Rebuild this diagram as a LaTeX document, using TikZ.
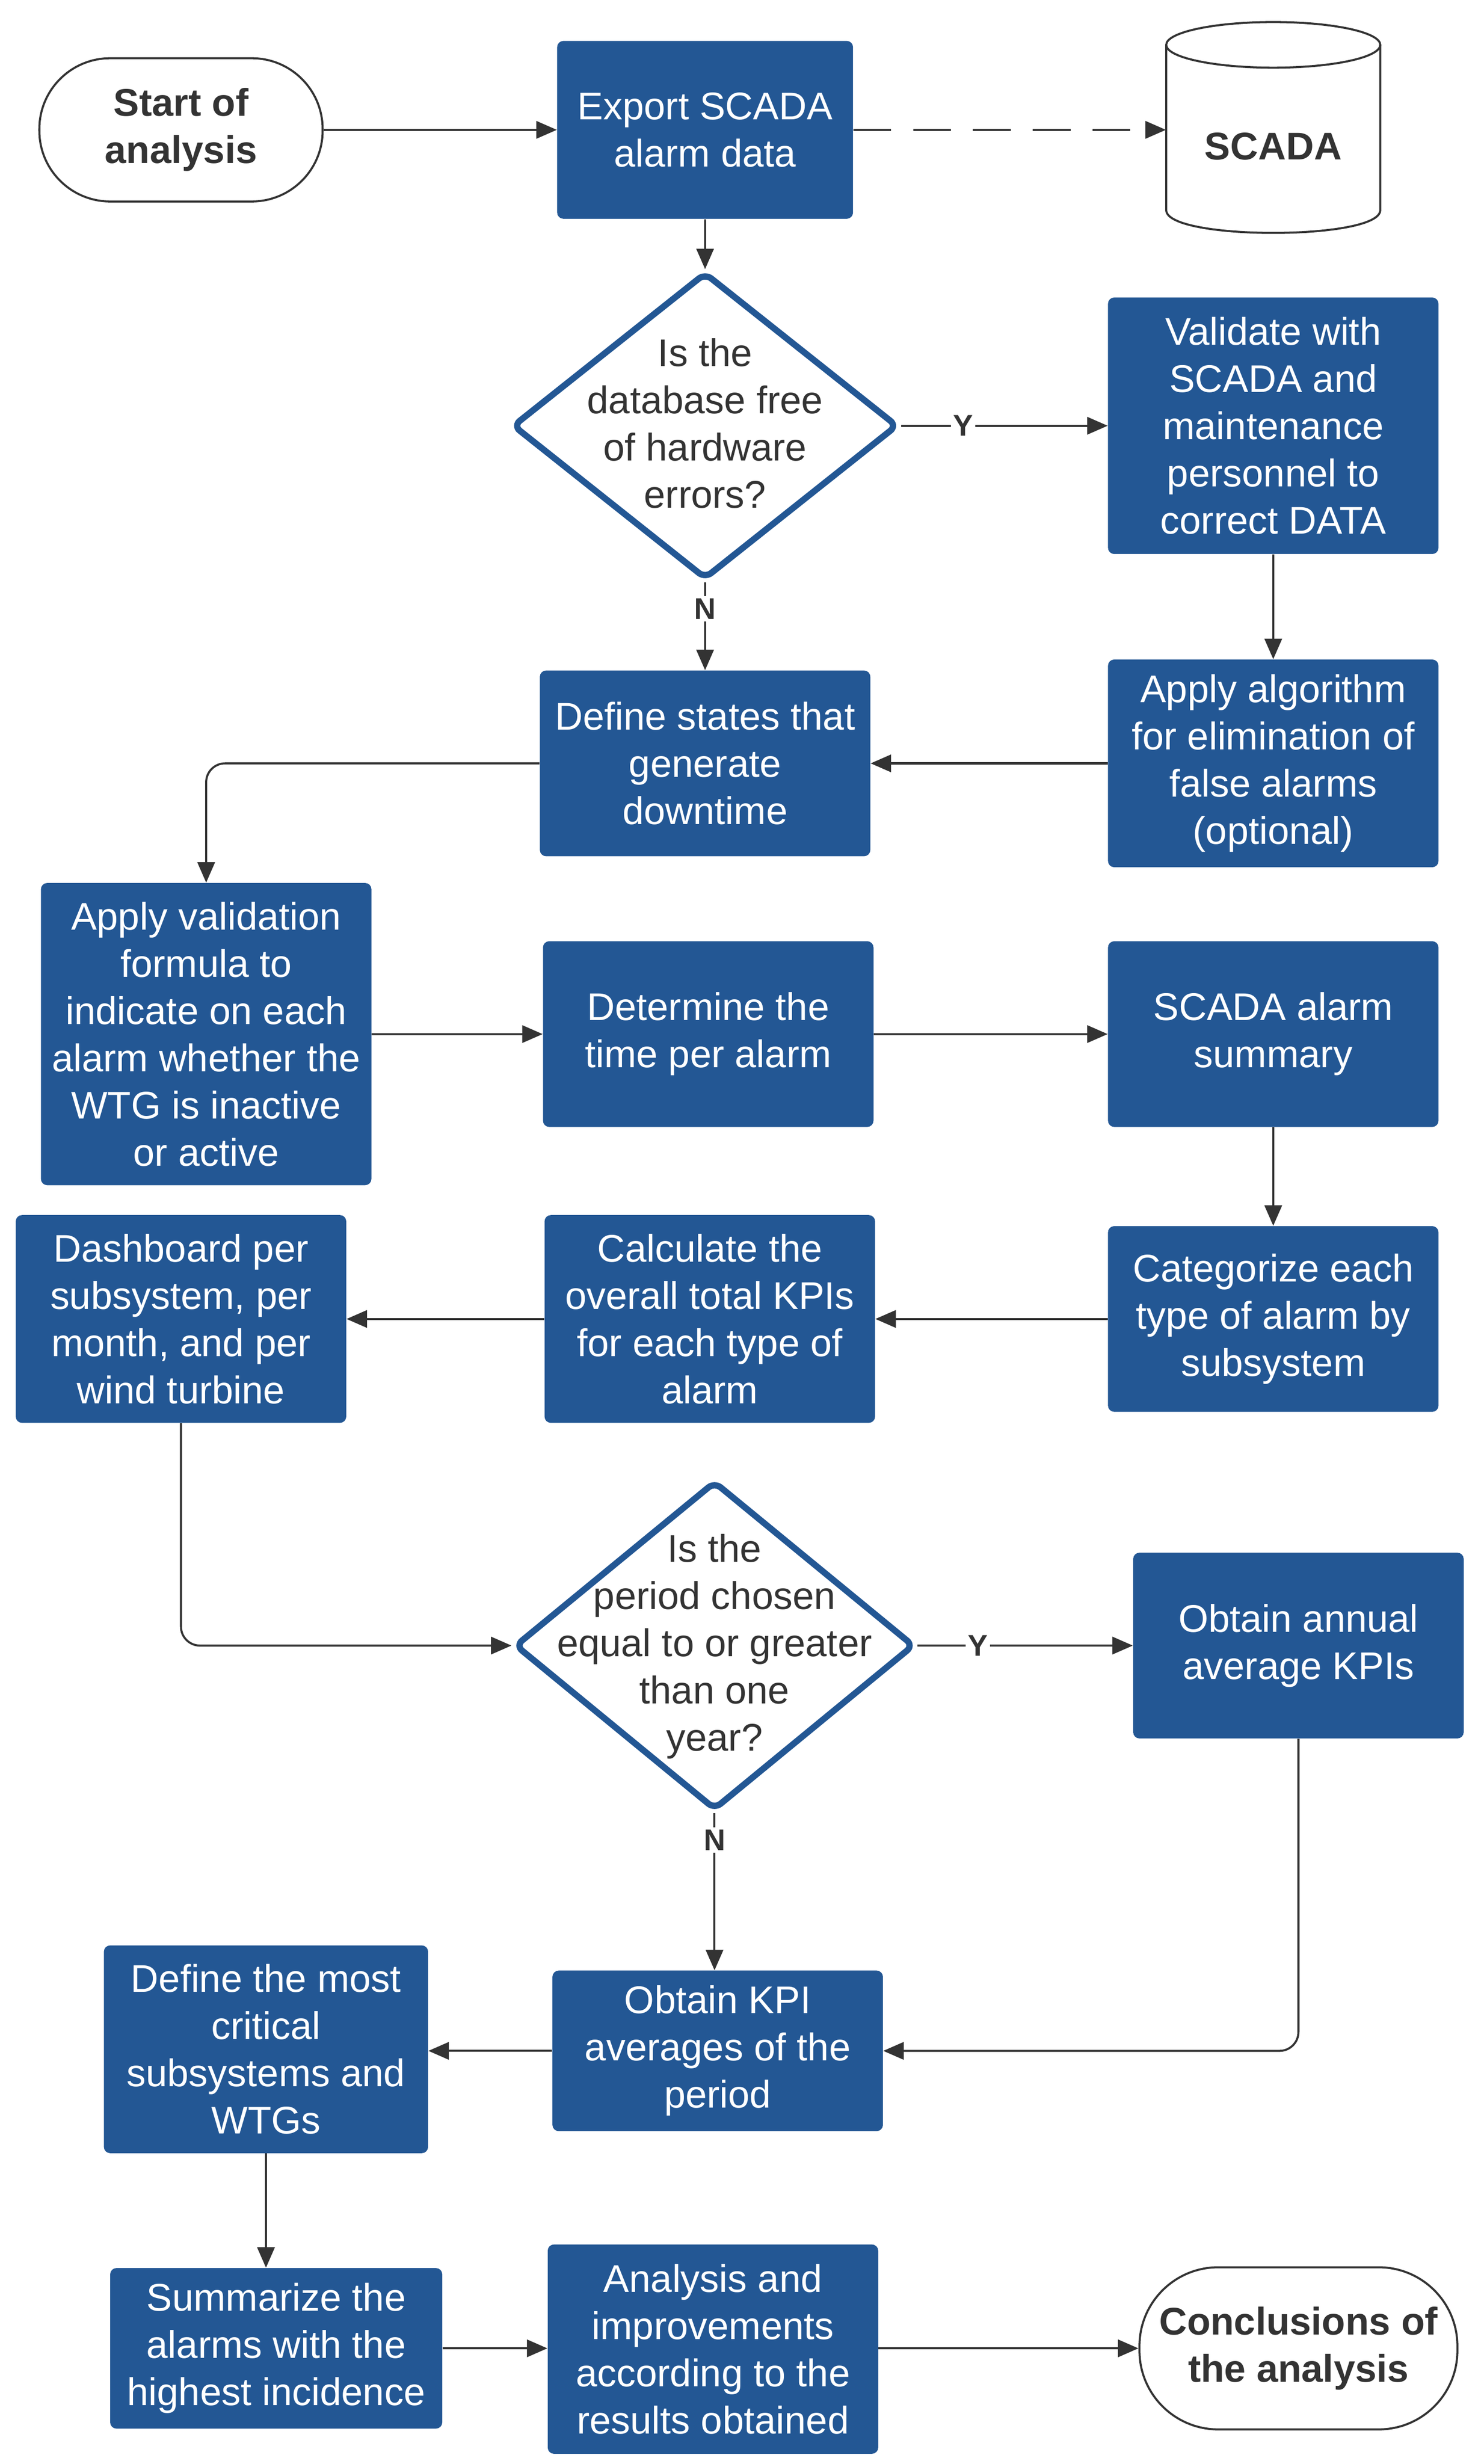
\documentclass[tikz,border=0pt]{standalone}
\usepackage{fontspec}
\setmainfont{Liberation Sans}
\usetikzlibrary{arrows.meta,shapes.geometric}
\definecolor{boxblue}{RGB}{35,87,148}
\definecolor{ink}{RGB}{51,51,51}
\tikzset{
  bbox/.style={fill=boxblue, draw=none, rounded corners=4pt, text=white, align=center, inner sep=0pt,
    font=\fontsize{24.5}{30}\selectfont},
  term/.style={draw=ink, line width=1.3pt, fill=white, text=ink, align=center, inner sep=0pt,
    font=\fontsize{24.5}{30}\selectfont\bfseries},
  dia/.style={diamond, draw=boxblue, line width=4pt, fill=white, rounded corners=5pt, inner sep=0pt},
  diatext/.style={text=ink, align=center, inner sep=0pt, font=\fontsize{24.5}{30}\selectfont},
  conn/.style={draw=ink, line width=1.3pt, -{Triangle[length=13pt,width=11pt]}},
  lbl/.style={fill=white, text=ink, inner sep=1.5pt, font=\fontsize{19}{22}\selectfont\bfseries},
}
\begin{document}
\begin{tikzpicture}[x=1pt,y=-1pt]
\useasboundingbox[fill=white] (0,0) rectangle (942.9,1565.5);

% terminals
\node[term, minimum width=180, minimum height=91, rounded corners=45pt] (start) at (115,82.5) {Start of\\analysis};
\node[term, minimum width=202, minimum height=103, rounded corners=50pt] (concl) at (825,1492) {Conclusions of\\the analysis};

% database cylinder
\node[minimum width=136, minimum height=134, inner sep=0pt] (scada) at (809,82.5) {};
\draw[draw=ink, line width=1.3pt, fill=white]
  (741,28.5) -- (741,133.5) .. controls (741,152.8) and (877,152.8) .. (877,133.5) -- (877,28.5);
\draw[draw=ink, line width=1.3pt] (809,28.5) ellipse [x radius=68, y radius=14.5];
\node[text=ink, inner sep=0pt, font=\fontsize{24.5}{30}\selectfont\bfseries] (scadatext) at (809,93) {SCADA};

% process boxes
\node[bbox, minimum width=188, minimum height=113] (export) at (448,82.5) {Export SCADA\\alarm data};
\node[bbox, minimum width=210, minimum height=163] (validate) at (809,270.5) {Validate with\\SCADA and\\maintenance\\personnel to\\correct DATA};
\node[bbox, minimum width=210, minimum height=132] (algo) at (809,485) {Apply algorithm\\for elimination of\\false alarms\\(optional)};
\node[bbox, minimum width=210, minimum height=118] (define) at (448,485) {Define states that\\generate\\downtime};
\node[bbox, minimum width=210, minimum height=192] (applyval) at (131,657) {Apply validation\\formula to\\indicate on each\\alarm whether the\\WTG is inactive\\or active};
\node[bbox, minimum width=210, minimum height=118] (determine) at (450,657) {Determine the\\time per alarm};
\node[bbox, minimum width=210, minimum height=118] (summary) at (809,657) {SCADA alarm\\summary};
\node[bbox, minimum width=210, minimum height=118] (categorize) at (809,838) {Categorize each\\type of alarm by\\subsystem};
\node[bbox, minimum width=210, minimum height=132] (calculate) at (451,838) {Calculate the\\overall total KPIs\\for each type of\\alarm};
\node[bbox, minimum width=210, minimum height=132] (dashboard) at (115,838) {Dashboard per\\subsystem, per\\month, and per\\wind turbine};
\node[bbox, minimum width=210, minimum height=118] (annual) at (825,1045.5) {Obtain annual\\average KPIs};
\node[bbox, minimum width=210, minimum height=102] (kpi) at (456,1303) {Obtain KPI\\averages of the\\period};
\node[bbox, minimum width=206, minimum height=132] (critical) at (169,1302) {Define the most\\critical\\subsystems and\\WTGs};
\node[bbox, minimum width=211, minimum height=102] (summarize) at (175.5,1492) {Summarize the\\alarms with the\\highest incidence};
\node[bbox, minimum width=210, minimum height=133] (analysis) at (453,1492.5) {Analysis and\\improvements\\according to the\\results obtained};

% decisions
\node[dia, minimum width=245, minimum height=195] (dia1) at (448,270.5) {};
\node[diatext] (dia1text) at (448,269) {Is the\\database free\\of hardware\\errors?};
\node[dia, minimum width=254, minimum height=209] (dia2) at (454,1045.5) {};
\node[diatext] (dia2text) at (454,1046) {Is the\\period chosen\\equal to or greater\\than one\\year?};

% connectors
\draw[conn] (start.east) -- (export.west);
\draw[conn, dash pattern=on 24pt off 14pt] (export.east) -- (scada.west);
\draw[conn] (export.south) -- (dia1.north);
\draw[conn] (dia1.east) -- node[lbl, pos=0.3] (ylab1) {Y} (dia1.east -| validate.west);
\draw[conn] (dia1.south) -- node[lbl, pos=0.3] (nlab1) {N} (define.north);
\draw[conn] (validate.south) -- (algo.north);
\draw[conn] (algo.west) -- (define.east);
\draw[conn, rounded corners=12pt] (define.west) -| (applyval.north);
\draw[conn] (applyval.east) -- (determine.west);
\draw[conn] (determine.east) -- (summary.west);
\draw[conn] (summary.south) -- (categorize.north);
\draw[conn] (categorize.west) -- (calculate.east);
\draw[conn] (calculate.west) -- (dashboard.east);
\draw[conn, rounded corners=12pt] (dashboard.south) |- (dia2.west);
\draw[conn] (dia2.east) -- node[lbl, pos=0.28] (ylab2) {Y} (dia2.east -| annual.west);
\draw[conn] (dia2.south) -- node[lbl, pos=0.17] (nlab2) {N} (dia2.south |- kpi.north);
\draw[conn, rounded corners=12pt] (annual.south) |- (kpi.east);
\draw[conn] (kpi.west) -- (kpi.west -| critical.east);
\draw[conn] (critical.south) -- (critical.south |- summarize.north);
\draw[conn] (summarize.east) -- (summarize.east -| analysis.west);
\draw[conn] (analysis.east |- concl.west) -- (concl.west);
\end{tikzpicture}
\end{document}
